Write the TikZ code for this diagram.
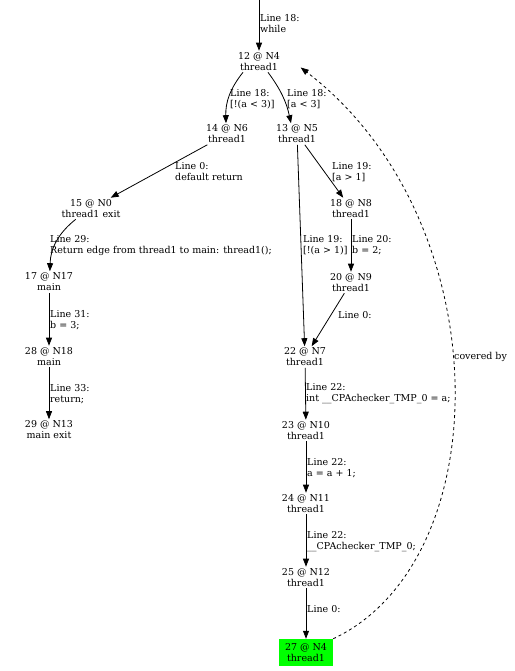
\documentclass[tikz,border=0pt]{standalone}
\usepackage{fontspec}
\setmainfont{DejaVu Serif}
\usetikzlibrary{arrows.meta, positioning}

\begin{document}
\begin{tikzpicture}[x=1pt, y=-1pt,
  state/.style={align=center, inner sep=1.5pt, font=\fontsize{9.5}{11}\selectfont},
  lbl/.style={align=left, anchor=west, inner sep=0pt, font=\fontsize{9.5}{11}\selectfont},
  edge/.style={line width=0.8pt, -{Triangle[length=8pt,width=6pt]}}]
\useasboundingbox (0,0) rectangle (514,671);

% States
\node[state] (n12) at (259,61.5) {12 @ N4\\thread1};
\node[state] (n14) at (227,134) {14 @ N6\\thread1};
\node[state] (n13) at (297,134) {13 @ N5\\thread1};
\node[state] (n15) at (91,208.5) {15 @ N0\\thread1 exit};
\node[state] (n18) at (351,208.5) {18 @ N8\\thread1};
\node[state] (n17) at (49,282) {17 @ N17\\main};
\node[state] (n20) at (351,282.5) {20 @ N9\\thread1};
\node[state] (n28) at (49,356.5) {28 @ N18\\main};
\node[state] (n22) at (305,357) {22 @ N7\\thread1};
\node[state] (n29) at (49,430) {29 @ N13\\main exit};
\node[state] (n23) at (306,430.5) {23 @ N10\\thread1};
\node[state] (n24) at (306,503.5) {24 @ N11\\thread1};
\node[state] (n25) at (306,577.5) {25 @ N12\\thread1};
\node[state, fill=green, minimum width=54pt, minimum height=27pt] (n27) at (306,652.5) {27 @ N4\\thread1};

% Edges
\coordinate (entry) at (259,0);
\draw[edge] (entry) -- (n12);
\node[lbl] (lw) at (260,24) {Line 18:\\while};

\draw[edge] ([xshift=-16pt]n12.south) to[bend right=20] ([xshift=-1pt]n14.north);
\node[lbl] (l14) at (230,99) {Line 18:\\{[}!(a < 3)]};

\draw[edge] ([xshift=9pt]n12.south) to[bend left=12] ([xshift=-6pt]n13.north);
\node[lbl] (l13) at (287,99) {Line 18:\\{[}a < 3]};

\draw[edge] (n14) -- (n15);
\node[lbl] (l15) at (175,171.5) {Line 0:\\default return};

\draw[edge] (n13) -- (n18);
\node[lbl] (l18) at (332,172) {Line 19:\\{[}a > 1]};

\draw[edge] (n13) -- (n22);
\node[lbl] (l22a) at (303,245.5) {Line 19:\\{[}!(a > 1)]};

\draw[edge] (n18) -- (n20);
\node[lbl] (l20) at (352,245.5) {Line 20:\\b = 2;};

\draw[edge] (n20) -- (n22);
\node[lbl] (l22b) at (338,315) {Line 0:};

\draw[edge] (n15) to[bend right=25] (n17);
\node[lbl] (l17) at (50,246) {Line 29:\\Return edge from thread1 to main: thread1();};

\draw[edge] (n17) -- (n28);
\node[lbl] (l28) at (50,320.5) {Line 31:\\b = 3;};

\draw[edge] (n28) -- (n29);
\node[lbl] (l29) at (50,394) {Line 33:\\return;};

\draw[edge] (n22) -- (n23);
\node[lbl] (l23) at (306,394) {Line 22:\\int \_\_CPAchecker\_TMP\_0 = a;};

\draw[edge] (n23) -- (n24);
\node[lbl] (l24) at (307,468) {Line 22:\\a = a + 1;};

\draw[edge] (n24) -- (n25);
\node[lbl] (l25) at (307,541.5) {Line 22:\\\_\_CPAchecker\_TMP\_0;};

\draw[edge] (n25) -- (n27);
\node[lbl] (l27) at (307,609) {Line 0:};

% Coverage
\coordinate (cov) at ([xshift=19pt,yshift=-6pt]n12.east);
\draw[edge, dashed] (n27.north east) .. controls (500,560) and (500,220) .. (cov);
\node[lbl] (lcov) at (454,357) {covered by};
\end{tikzpicture}
\end{document}
